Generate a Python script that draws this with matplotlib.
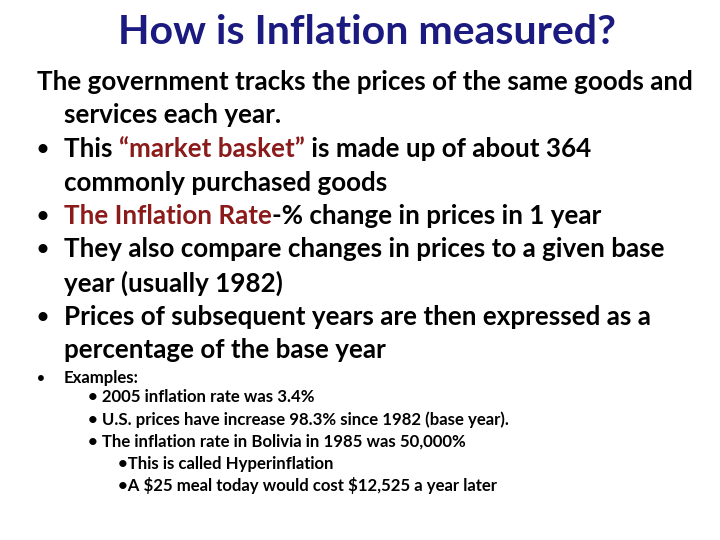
import matplotlib.pyplot as plt

title = "How is Inflation measured?"
# each line: (x px, y px, size pt, bullet, [(text, colour), ...])
BLK = "black"
RED = "#8b1a1a"
lines = [
    (37, 82, 18.7, None, [("The government tracks the prices of the same goods and", BLK)]),
    (64, 115, 18.7, None, [("services each year.", BLK)]),
    (64, 149, 18.7, 37, [("This ", BLK), ("\u201cmarket basket\u201d", RED), (" is made up of about 364", BLK)]),
    (64, 183, 18.7, None, [("commonly purchased goods", BLK)]),
    (64, 216, 18.7, 37, [("The Inflation Rate", RED), ("-% change in prices in 1 year", BLK)]),
    (64, 249, 18.7, 37, [("They also compare changes in prices to a given base", BLK)]),
    (64, 283, 18.7, None, [("year (usually 1982)", BLK)]),
    (64, 317, 18.7, 37, [("Prices of subsequent years are then expressed as a", BLK)]),
    (64, 350, 18.7, None, [("percentage of the base year", BLK)]),
    (64, 378, 12.1, 37, [("Examples:", BLK)]),
    (88, 397, 12.1, None, [("\u2022 2005 inflation rate was 3.4%", BLK)]),
    (88, 420, 12.1, None, [("\u2022 U.S. prices have increase 98.3% since 1982 (base year).", BLK)]),
    (88, 442, 12.1, None, [("\u2022 The inflation rate in Bolivia in 1985 was 50,000%", BLK)]),
    (118, 464, 12.1, None, [("\u2022This is called Hyperinflation", BLK)]),
    (118, 486, 12.1, None, [("\u2022A $25 meal today would cost $12,525 a year later", BLK)]),
]

W, H = 720, 540
fig = plt.figure(figsize=(7.2, 5.4), dpi=100)
ax = fig.add_axes([0, 0, 1, 1])
ax.set_xlim(0, W)
ax.set_ylim(H, 0)
ax.axis("off")
font = "Lato"

ax.text(W / 2 + 7, 32, title, ha="center", va="center", fontsize=29.5,
        fontweight="bold", color="#1a1a80", family=font)

fig.canvas.draw()
r = fig.canvas.get_renderer()
inv = ax.transData.inverted()
for x, y, size, bx, parts in lines:
    if bx is not None:
        ax.text(bx, y, "\u2022", va="center", fontsize=size * 0.8, fontweight="bold", family=font)
    cx = x
    for txt, col in parts:
        t = ax.text(cx, y, txt, va="center", fontsize=size, fontweight="bold",
                    color=col, family=font, parse_math=False)
        bb = t.get_window_extent(renderer=r)
        cx = inv.transform((bb.x1, bb.y0))[0]

fig.savefig("out.png", dpi=100)
